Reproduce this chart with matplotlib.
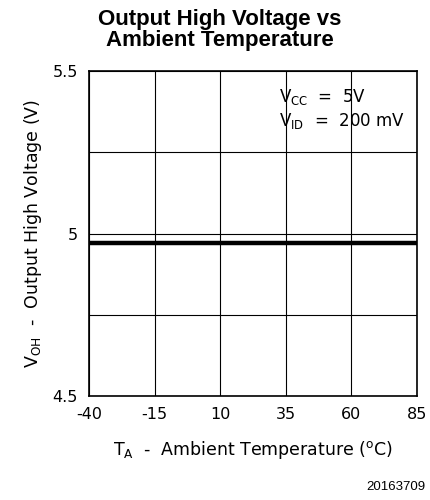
import matplotlib.pyplot as plt

plt.rcParams["axes.unicode_minus"] = False

# Output high voltage vs ambient temperature
temps = [-40, -15, 10, 35, 60, 85]
voh = [4.97, 4.97, 4.97, 4.97, 4.97, 4.97]
xticks = [-40, -15, 10, 35, 60, 85]
yticks = [4.5, 5.0, 5.5]
ytick_labels = ["4.5", "5", "5.5"]

fig = plt.figure(figsize=(4.3, 5.0), dpi=100)
ax = fig.add_axes([0.207, 0.208, 0.763, 0.650])

ax.plot(temps, voh, color="black", linewidth=3.2, solid_capstyle="butt")

ax.set_xlim(-40, 85)
ax.set_ylim(4.5, 5.5)
ax.set_xticks(xticks)
ax.set_yticks(yticks)
ax.set_yticklabels(ytick_labels)
ax.set_yticks([4.75, 5.25], minor=True)
ax.grid(True, which="both", color="black", linewidth=0.8)
ax.tick_params(which="both", length=0, labelsize=11.5, pad=8)
for s in ax.spines.values():
    s.set_linewidth(1.2)

ax.set_xlabel("T$_\\mathregular{A}$  -  Ambient Temperature ($^\\mathregular{o}$C)", fontsize=12.5, labelpad=12)
ax.set_ylabel("V$_\\mathregular{OH}$  -  Output High Voltage (V)", fontsize=12.5, labelpad=6)

ax.text(0.58, 0.92, "V$_\\mathregular{CC}$  =  5V", transform=ax.transAxes, fontsize=12, va="center")
ax.text(0.58, 0.845, "V$_\\mathregular{ID}$  =  200 mV", transform=ax.transAxes, fontsize=12, va="center")

fig.text(0.512, 0.94, "Output High Voltage vs\nAmbient Temperature", ha="center", va="center",
         fontsize=16, fontweight="bold", family="Liberation Sans", linespacing=1.05)
fig.text(0.99, 0.026, "20163709", ha="right", va="center", fontsize=9.5, family="Liberation Sans")

fig.savefig("out.png", dpi=100)
